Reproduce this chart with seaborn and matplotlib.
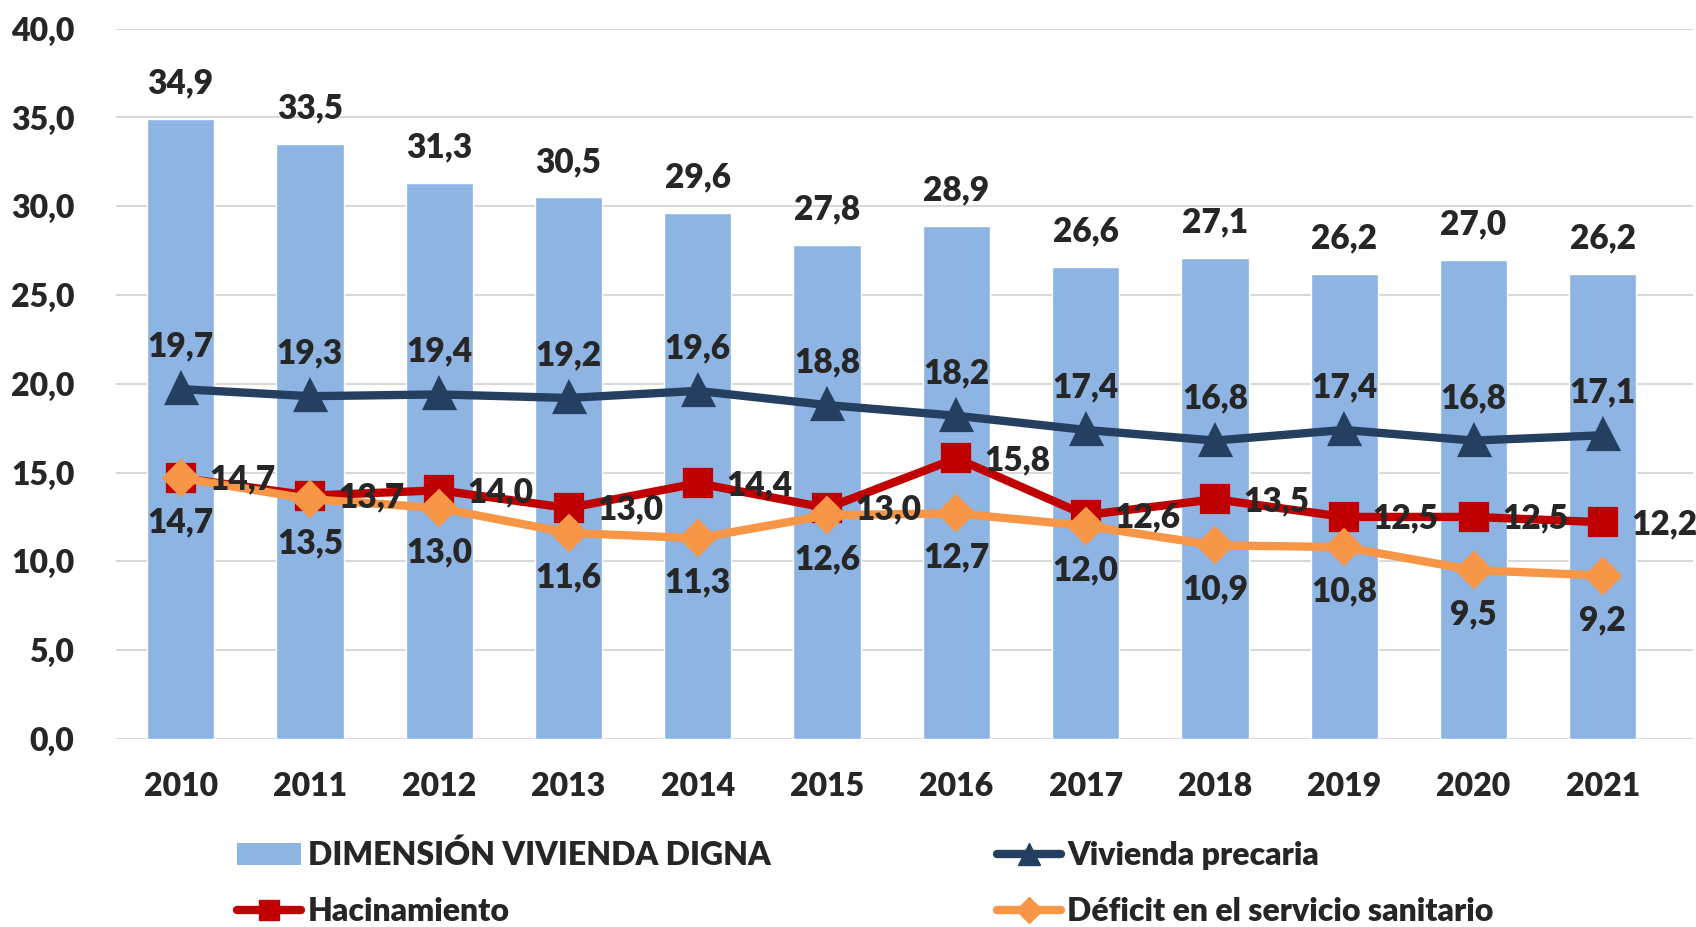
import matplotlib
matplotlib.use("Agg")
import matplotlib.pyplot as plt
from matplotlib.lines import Line2D
from matplotlib.patches import Patch
import seaborn as sns
import pandas as pd

# Data
years = ["2010", "2011", "2012", "2013", "2014", "2015", "2016", "2017", "2018", "2019", "2020", "2021"]
vivienda_digna = [34.9, 33.5, 31.3, 30.5, 29.6, 27.8, 28.9, 26.6, 27.1, 26.2, 27.0, 26.2]
vivienda_precaria = [19.7, 19.3, 19.4, 19.2, 19.6, 18.8, 18.2, 17.4, 16.8, 17.4, 16.8, 17.1]
hacinamiento = [14.7, 13.7, 14.0, 13.0, 14.4, 13.0, 15.8, 12.6, 13.5, 12.5, 12.5, 12.2]
deficit_sanitario = [14.7, 13.5, 13.0, 11.6, 11.3, 12.6, 12.7, 12.0, 10.9, 10.8, 9.5, 9.2]

df = pd.DataFrame({
    "year": years,
    "digna": vivienda_digna,
    "precaria": vivienda_precaria,
    "hacin": hacinamiento,
    "deficit": deficit_sanitario,
})

sns.set_style("white")
plt.rcParams["font.family"] = ["Lato", "DejaVu Sans"]
plt.rcParams["font.weight"] = "heavy"

c_bar = "#8EB4E3"
c_navy = "#243F60"
c_red = "#C00000"
c_orange = "#F79646"

def fmt(v):
    return f"{v:.1f}".replace(".", ",")

fig = plt.figure(figsize=(16.96, 9.27), dpi=100)
ax = fig.add_axes([0.0684, 0.203, 0.93, 0.766])

sns.barplot(data=df, x="year", y="digna", color=c_bar, saturation=1, width=0.52, ax=ax, zorder=2)
sns.pointplot(data=df, x="year", y="precaria", color=c_navy, markers="^", markersize=18,
              linewidth=6, ax=ax, zorder=4)
sns.pointplot(data=df, x="year", y="deficit", color=c_orange, markers="D", markersize=15,
              linewidth=6, ax=ax, zorder=4)
sns.pointplot(data=df, x="year", y="hacin", color=c_red, markers="s", markersize=17,
              linewidth=6, ax=ax, zorder=3)

fs = 23
fs_lab = 24
fw = "heavy"
for i in range(len(years)):
    ax.text(i, vivienda_digna[i] + 1.1, fmt(vivienda_digna[i]), ha="center", va="bottom",
            fontsize=fs_lab, fontweight=fw)
    ax.text(i, vivienda_precaria[i] + 1.5, fmt(vivienda_precaria[i]), ha="center", va="bottom",
            fontsize=fs_lab, fontweight=fw)
    ax.text(i + 0.22, hacinamiento[i] - 0.1, fmt(hacinamiento[i]), ha="left", va="center",
            fontsize=fs_lab, fontweight=fw, zorder=6)
    ax.text(i, deficit_sanitario[i] - 1.6, fmt(deficit_sanitario[i]), ha="center", va="top",
            fontsize=fs_lab, fontweight=fw)

ax.set_ylim(0, 40)
ax.set_xlim(-0.5, 11.7)
ax.set_yticks(range(0, 41, 5))
ax.set_yticklabels([fmt(v) for v in range(0, 41, 5)], fontsize=fs, fontweight=fw)
ax.tick_params(axis="x", labelsize=fs, pad=24, length=0)
ax.tick_params(axis="y", pad=30, length=0)
for lab in ax.get_xticklabels():
    lab.set_fontweight(fw)
ax.set_xlabel("")
ax.set_ylabel("")
ax.yaxis.grid(True, color="#D9D9D9", linewidth=1.5, zorder=0)
ax.set_axisbelow(True)
for s in ax.spines.values():
    s.set_visible(False)

# column-wise fill: first column then second
handles = [
    Patch(facecolor=c_bar, edgecolor="none", label="DIMENSIÓN VIVIENDA DIGNA"),
    Line2D([0], [0], color=c_red, lw=6, marker="s", markersize=15, label="Hacinamiento"),
    Line2D([0], [0], color=c_navy, lw=6, marker="^", markersize=16, label="Vivienda precaria"),
    Line2D([0], [0], color=c_orange, lw=6, marker="D", markersize=13, label="Déficit en el servicio sanitario"),
]
fig.legend(handles=handles, loc="lower left", bbox_to_anchor=(0.123, -0.03), ncol=2,
           frameon=False, prop={"size": fs, "weight": fw}, columnspacing=7.1,
           handlelength=2.0, handletextpad=0.2, labelspacing=0.85)

fig.savefig("out.png", dpi=100)
